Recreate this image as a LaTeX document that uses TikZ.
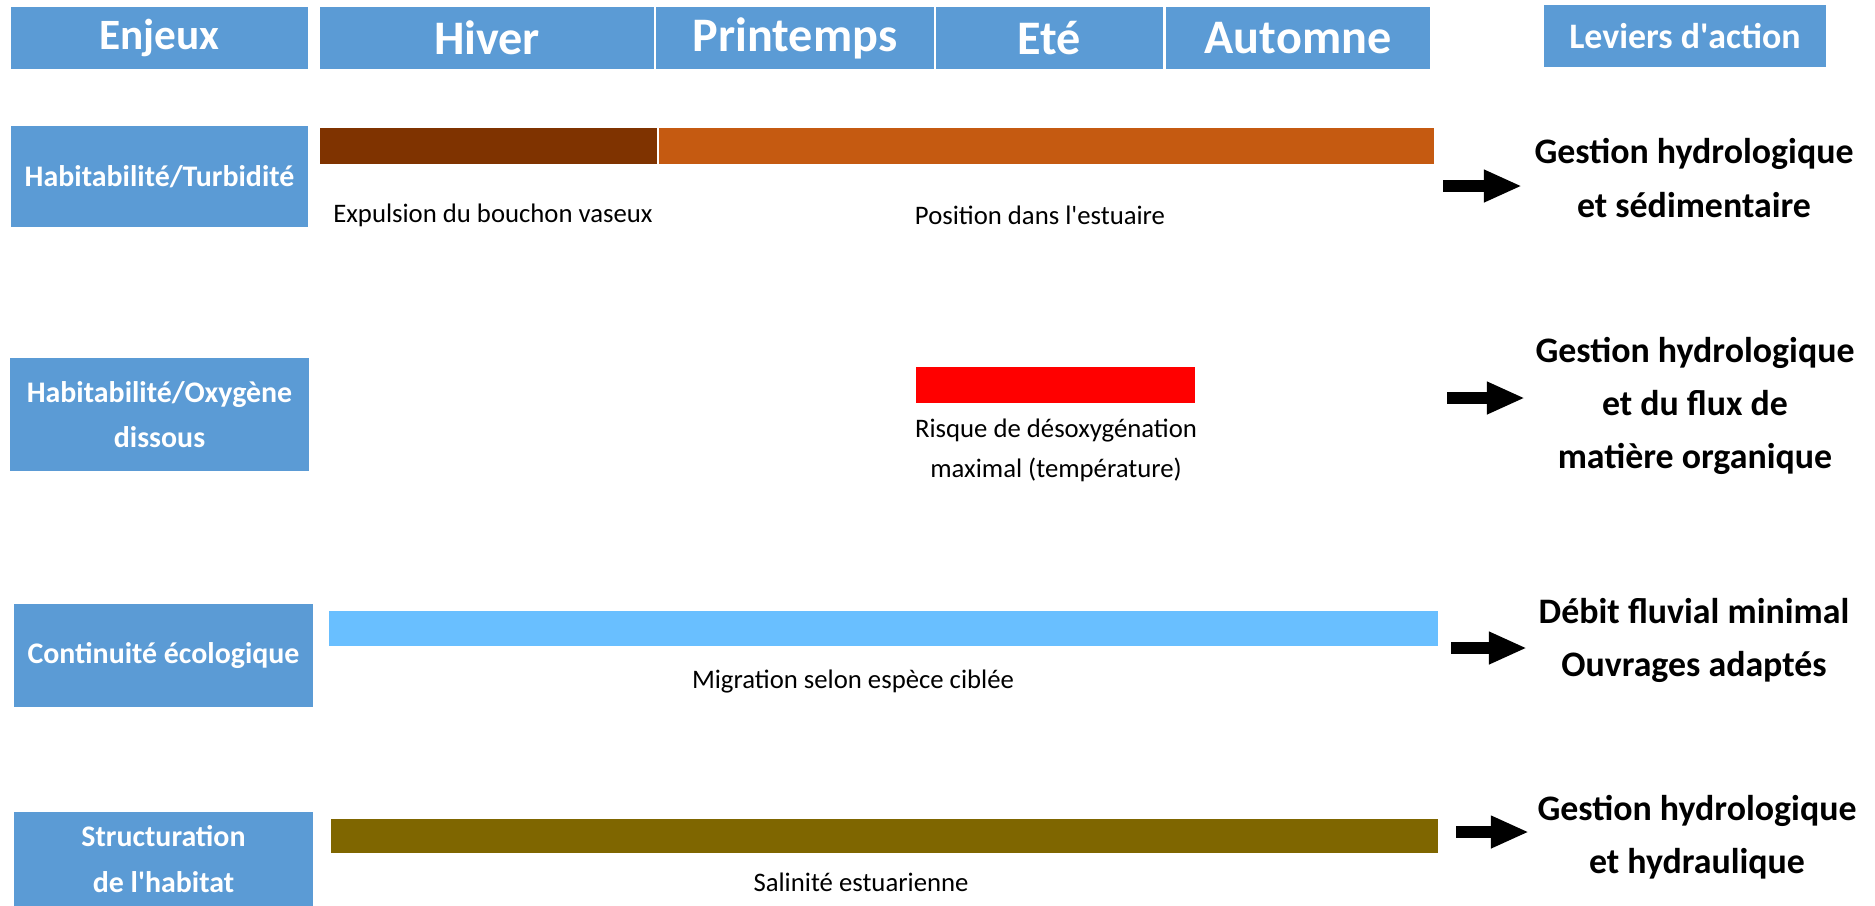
\documentclass[tikz,border=0pt]{standalone}
\usepackage{fontspec}
\setmainfont{Carlito}
\usetikzlibrary{positioning}
\usetikzlibrary{arrows.meta}

\definecolor{headblue}{HTML}{5B9BD5}
\definecolor{mudbrown}{HTML}{7F3300}
\definecolor{rustorange}{HTML}{C55A11}
\definecolor{skyblue}{HTML}{69BFFF}
\definecolor{olivebar}{HTML}{7F6600}

\begin{document}
\begin{tikzpicture}[x=0.01cm,y=-0.01cm]
    \tikzset{
    headcell/.style={fill=headblue, text=white, inner sep=0pt, minimum height=0.62cm,
        font=\bfseries\fontsize{13.7}{16}\selectfont},
    issuebox/.style={fill=headblue, text=white, inner sep=0pt, align=center,
        font=\bfseries\fontsize{8.5}{13}\selectfont},
    bar/.style={inner sep=0pt, minimum height=0.36cm},
    barlabel/.style={align=center, inner sep=0pt, font=\fontsize{7.6}{11.4}\selectfont},
    lever/.style={align=center, inner sep=0pt, font=\bfseries\fontsize{10.2}{15.1}\selectfont},
    fatarrow/.style={line width=0.12cm, -{Triangle[length=0.38cm,width=0.30cm]}}
    }
    \useasboundingbox (0,0) rectangle (1875,905);

        % header row
        \node (enjeux)[headcell, font=\bfseries\fontsize{12.3}{14}\selectfont, minimum width=2.97cm] at (159.5,38) {Enjeux};
        \node (hiver)[headcell, minimum width=3.34cm] at (487,38) {Hiver};
        \node (printemps)[headcell, minimum width=2.78cm] at (795,38) {Printemps};
        \node (ete)[headcell, minimum width=2.27cm] at (1049.5,38) {Eté};
        \node (automne)[headcell, minimum width=2.64cm] at (1298,38) {Automne};
        \node (leviers)[headcell, font=\bfseries\fontsize{10.2}{12}\selectfont, minimum width=2.82cm] at (1685,36) {Leviers d\textquotesingle action};

        % enjeux
        \node (turbidite)[issuebox, minimum width=2.97cm, minimum height=1.01cm] at (159.5,176.5) {Habitabilité/Turbidité};
        \node (oxygene)[issuebox, minimum width=2.99cm, minimum height=1.13cm] at (159.5,414.5) {Habitabilité/Oxygène\\dissous};
        \node (continuite)[issuebox, minimum width=2.99cm, minimum height=1.03cm] at (163.5,655.5) {Continuité écologique};
        \node (structuration)[issuebox, minimum width=2.99cm, minimum height=0.93cm] at (163.5,859) {Structuration\\de l\textquotesingle habitat};

        % periods
        \node (expulsion)[bar, fill=mudbrown, minimum width=3.37cm] at (488.5,146) {};
        \node (position)[bar, fill=rustorange, minimum width=7.75cm] at (1046.5,146) {};
        \node (desoxy)[bar, fill=red, minimum width=2.79cm] at (1055.5,385) {};
        \node (migration)[bar, fill=skyblue, minimum width=11.09cm, minimum height=0.35cm] at (883.5,628.5) {};
        \node (salinite)[bar, fill=olivebar, minimum width=11.07cm, minimum height=0.34cm] at (884.5,836) {};

        \node (expulsionlbl)[barlabel] at (493,215) {Expulsion du bouchon vaseux};
        \node (positionlbl)[barlabel] at (1040,215) {Position dans l\textquotesingle estuaire};
        \node (desoxylbl)[barlabel] at (1056,450) {Risque de désoxygénation\\maximal (température)};
        \node (migrationlbl)[barlabel] at (853,682) {Migration selon espèce ciblée};
        \node (salinitelbl)[barlabel] at (861,882) {Salinité estuarienne};

        % leviers
        \node (gestion1)[lever] at (1694,178) {Gestion hydrologique\\et sédimentaire};
        \node (gestion2)[lever] at (1695,406) {Gestion hydrologique\\et du flux de\\matière organique};
        \node (debit)[lever] at (1694,640) {Débit fluvial minimal\\Ouvrages adaptés};
        \node (gestion4)[lever] at (1697,837) {Gestion hydrologique\\et hydraulique};

        \coordinate (a1s) at (1443,186);
        \coordinate (a1e) at (1522,186);
        \coordinate (a2s) at (1447,398);
        \coordinate (a2e) at (1525,398);
        \coordinate (a3s) at (1451,648);
        \coordinate (a3e) at (1527,648);
        \coordinate (a4s) at (1456,832);
        \coordinate (a4e) at (1529,832);

        \draw[fatarrow] (a1s) -- (a1e);
        \draw[fatarrow] (a2s) -- (a2e);
        \draw[fatarrow] (a3s) -- (a3e);
        \draw[fatarrow] (a4s) -- (a4e);

    \end{tikzpicture}
\end{document}
